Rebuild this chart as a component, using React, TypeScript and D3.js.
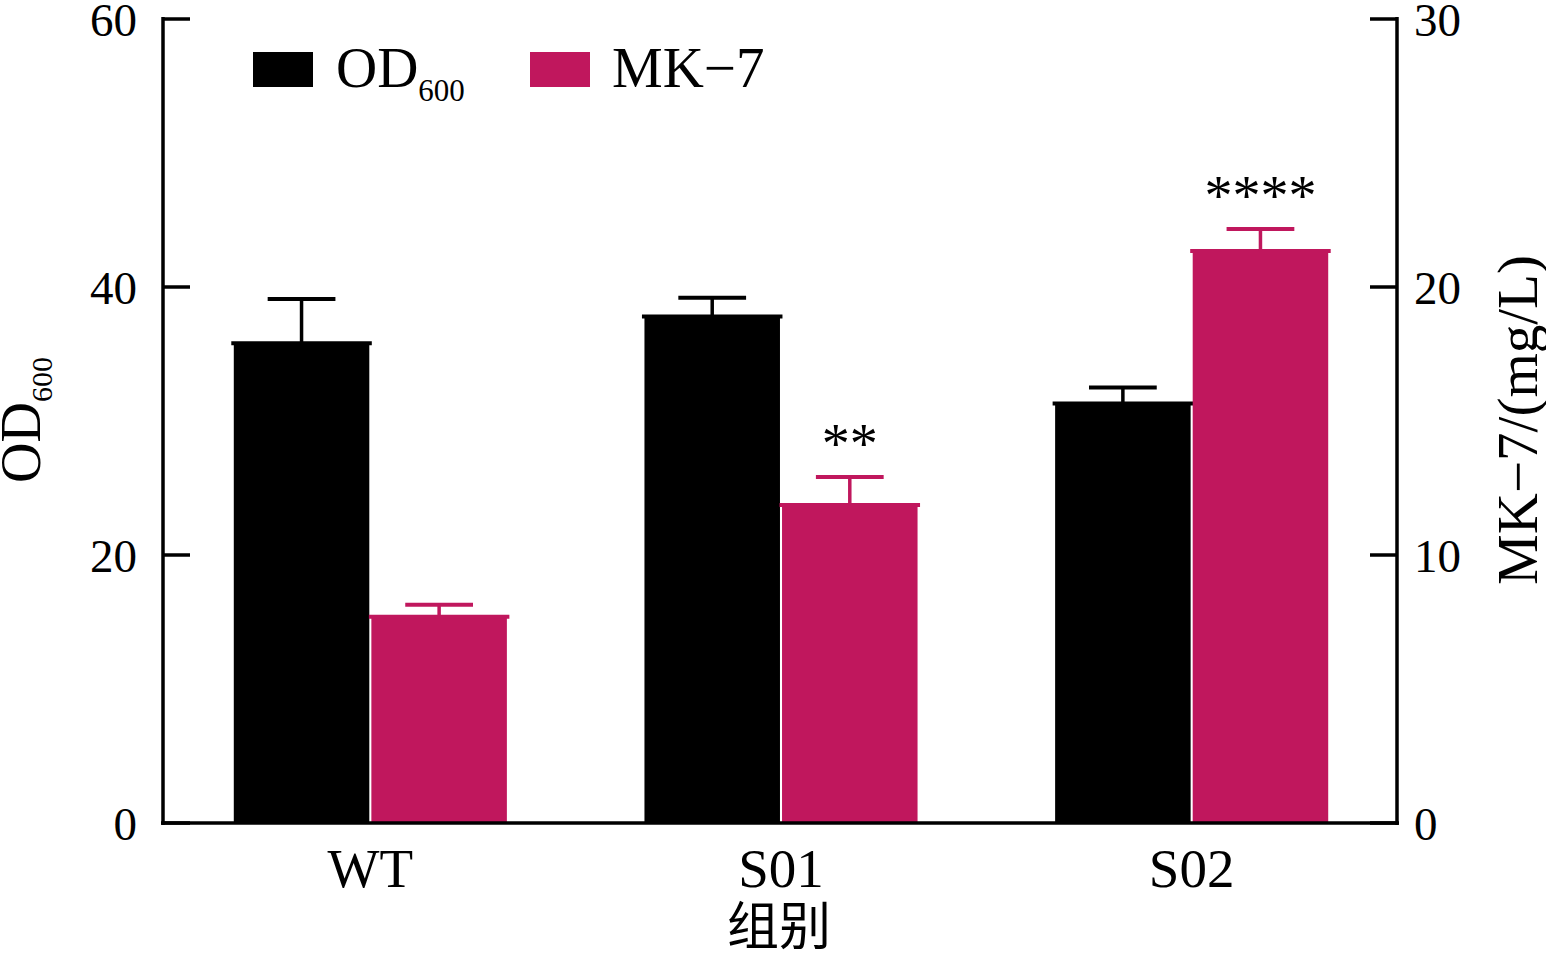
import React from "react";
import * as d3 from "d3";

const categories = ["WT", "S01", "S02"];
const od600 = [35.8, 37.8, 31.3];
const od600Err = [3.3, 1.4, 1.2];
const mk7 = [7.7, 11.87, 21.34];
const mk7Err = [0.44, 1.04, 0.82];
const sigLabels = ["", "**", "****"];
const leftTicks = [0, 20, 40, 60];
const rightTicks = [0, 10, 20, 30];

const W = 1546;
const H = 958;
const FONT = "'Liberation Serif', 'Times New Roman', serif";
const BLACK = "#000000";
const PINK = "#C0175D";

export default function App() {
  const x0 = d3.scaleBand<string>().domain(categories).range([165, 1397]).padding(0);
  const x1 = d3
    .scaleBand<string>()
    .domain(["od", "mk"])
    .range([0, x0.bandwidth()])
    .paddingInner(0.015)
    .paddingOuter(0.5);
  const yL = d3.scaleLinear().domain([0, 60]).range([823, 19]);
  const yR = d3.scaleLinear().domain([0, 30]).range([823, 19]);
  const bw = x1.bandwidth();
  const capW = bw * 0.5;

  const bars = categories.flatMap((c, i) => [
    { c, key: "od", v: od600[i], e: od600Err[i], y: yL, color: BLACK, sig: "" },
    { c, key: "mk", v: mk7[i], e: mk7Err[i], y: yR, color: PINK, sig: sigLabels[i] },
  ]);

  return (
    <svg
      width={W}
      height={H}
      style={{ position: "absolute", left: 0, top: 0, background: "#fff" }}
      fontFamily={FONT}
    >
      {/* bars */}
      {bars.map((b, k) => {
        const x = (x0(b.c) as number) + (x1(b.key) as number);
        const yTop = b.y(b.v);
        const yErr = b.y(b.v + b.e);
        const cx = x + bw / 2;
        return (
          <g key={k}>
            <rect x={x} y={yTop} width={bw} height={b.y(0) - yTop} fill={b.color} />
            <line x1={x - 2.5} x2={x + bw + 2.5} y1={yTop} y2={yTop} stroke={b.color} strokeWidth={4} />
            <line x1={cx} x2={cx} y1={yTop} y2={yErr} stroke={b.color} strokeWidth={3.5} />
            <line x1={cx - capW / 2} x2={cx + capW / 2} y1={yErr} y2={yErr} stroke={b.color} strokeWidth={4} />
            {b.sig && (
              <text x={cx} y={yErr - 28} textAnchor="middle" fontSize={56} fill="#000" dy="0.55em" transform="translate(0,-17)">
                {b.sig}
              </text>
            )}
          </g>
        );
      })}

      {/* axes */}
      <line x1={163} x2={163} y1={17} y2={825} stroke="#000" strokeWidth={3.5} />
      <line x1={1397} x2={1397} y1={17} y2={825} stroke="#000" strokeWidth={3.5} />
      <line x1={161} x2={1399} y1={823} y2={823} stroke="#000" strokeWidth={3.5} />
      {leftTicks.map((t) => (
        <g key={"l" + t}>
          <line x1={163} x2={190} y1={yL(t)} y2={yL(t)} stroke="#000" strokeWidth={3.5} />
          <text x={137} y={yL(t) + 1} dy="0.35em" textAnchor="end" fontSize={47}>
            {t}
          </text>
        </g>
      ))}
      {rightTicks.map((t) => (
        <g key={"r" + t}>
          <line x1={1370} x2={1397} y1={yR(t)} y2={yR(t)} stroke="#000" strokeWidth={3.5} />
          <text x={1414} y={yR(t) + 1} dy="0.35em" textAnchor="start" fontSize={47}>
            {t}
          </text>
        </g>
      ))}

      {/* category labels */}
      {categories.map((c) => (
        <text key={c} x={(x0(c) as number) + x0.bandwidth() / 2} y={887} textAnchor="middle" fontSize={55}>
          {c}
        </text>
      ))}
      <text x={779} y={945} textAnchor="middle" fontSize={52} fontFamily="'Noto Sans CJK SC', sans-serif">
        组别
      </text>

      {/* y axis titles */}
      <text transform="translate(40,420) rotate(-90)" textAnchor="middle" fontSize={56}>
        OD<tspan fontSize={30} dy={12}>600</tspan>
      </text>
      <text transform="translate(1537,420) rotate(-90)" textAnchor="middle" fontSize={57}>
        MK−7/(mg/L)
      </text>

      {/* legend */}
      <rect x={253} y={52} width={60} height={35} fill={BLACK} />
      <text x={336} y={87} fontSize={57}>
        OD<tspan fontSize={31} dy={14}>600</tspan>
      </text>
      <rect x={530} y={52} width={60} height={35} fill={PINK} />
      <text x={612} y={87} fontSize={57}>
        MK−7
      </text>
    </svg>
  );
}
